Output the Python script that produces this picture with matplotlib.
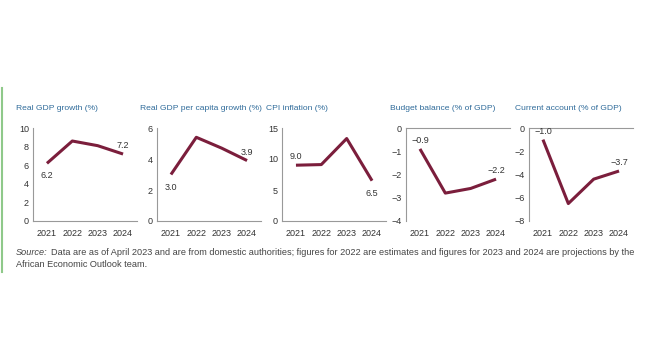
import matplotlib.pyplot as plt
from matplotlib.lines import Line2D
from matplotlib.text import Annotation

years = ['2021', '2022', '2023', '2024']

gdp_growth = [6.2, 8.6, 8.1, 7.2]
gdp_pc_growth = [3.0, 5.4, 4.7, 3.9]
cpi_inflation = [9.0, 9.1, 13.3, 6.5]
budget_balance = [-0.9, -2.8, -2.6, -2.2]
current_account = [-1.0, -6.5, -4.4, -3.7]

titles = ['Real GDP growth (%)', 'Real GDP per capita growth (%)', 'CPI inflation (%)',
          'Budget balance (% of GDP)', 'Current account (% of GDP)']
series = [gdp_growth, gdp_pc_growth, cpi_inflation, budget_balance, current_account]
ylims = [(0, 10), (0, 6), (0, 15), (-4, 0), (-8, 0)]
yticks = [[0, 2, 4, 6, 8, 10], [0, 2, 4, 6], [0, 5, 10, 15], [-4, -3, -2, -1, 0], [-8, -6, -4, -2, 0]]
# label placement for first/last point: offset in points
label_offsets = [((0, -9), (0, 6)), ((0, -9), (0, 6)), ((0, 6), (0, -9)),
                 ((0, 6), (0, 6)), ((0, 6), (0, 6))]

font = 'Liberation Sans'
line_color = '#7b1e3c'
title_color = '#2f6b9a'
tick_color = '#333333'

fig = plt.figure(figsize=(6.6, 3.6), dpi=100)

lefts = [33, 157, 282, 406, 529]
title_x = [16, 140, 266, 390, 515]
for i in range(5):
    ax = fig.add_axes([lefts[i] / 660, 1 - 221 / 360, 104 / 660, 93 / 360])
    x = range(len(years))
    ax.plot(x, series[i], color=line_color, lw=2.2, solid_capstyle='butt')
    ax.set_xlim(-0.55, 3.55)
    ax.set_ylim(*ylims[i])
    ax.set_yticks(yticks[i])
    ax.set_yticklabels([str(t).replace('-', '\u2212') for t in yticks[i]])
    ax.set_xticks(list(x))
    ax.set_xticklabels(years)
    for s in ['top', 'right', 'bottom']:
        ax.spines[s].set_visible(False)
    ax.spines['left'].set_color('#999999')
    ax.spines['left'].set_linewidth(0.8)
    ax.axhline(0, color='#999999', lw=0.8, clip_on=False)
    ax.tick_params(length=0, labelsize=6.5, colors=tick_color, pad=3)
    ax.tick_params(axis='x', pad=5.5)
    for lbl in ax.get_xticklabels() + ax.get_yticklabels():
        lbl.set_fontfamily(font)
    # value labels on first and last points
    for j, off in zip([0, 3], label_offsets[i]):
        v = series[i][j]
        txt = f'{v:.1f}'.replace('-', '\u2212')
        ax.annotate(txt, (j, v), xytext=off, textcoords='offset points',
                    ha='center', va='center', fontsize=6.5, color=tick_color,
                    fontfamily=font)
    fig.text(title_x[i] / 660, 1 - 108 / 360, titles[i], fontsize=6.1,
             color=title_color, fontfamily=font, va='center', ha='left')

src = fig.text(16 / 660, 1 - 255 / 360, 'Source:', fontsize=6.6, style='italic',
               color='#444444', fontfamily=font, va='baseline')
fig.add_artist(Annotation(
    'Data are as of April 2023 and are from domestic authorities; figures for 2022 are estimates '
    'and figures for 2023 and 2024 are projections by the',
    xy=(1, 0), xycoords=src, xytext=(2.5, 0), textcoords='offset points',
    fontsize=6.6, color='#444444', fontfamily=font, va='bottom'))
fig.text(16 / 660, 1 - 267 / 360, 'African Economic Outlook team.', fontsize=6.6,
         color='#444444', fontfamily=font, va='baseline')

# green side rule
fig.add_artist(Line2D([1.5 / 660, 1.5 / 660], [1 - 88 / 360, 1 - 272 / 360],
                      color='#8fc98a', lw=1.5, transform=fig.transFigure))

fig.savefig('out.png', dpi=100)
